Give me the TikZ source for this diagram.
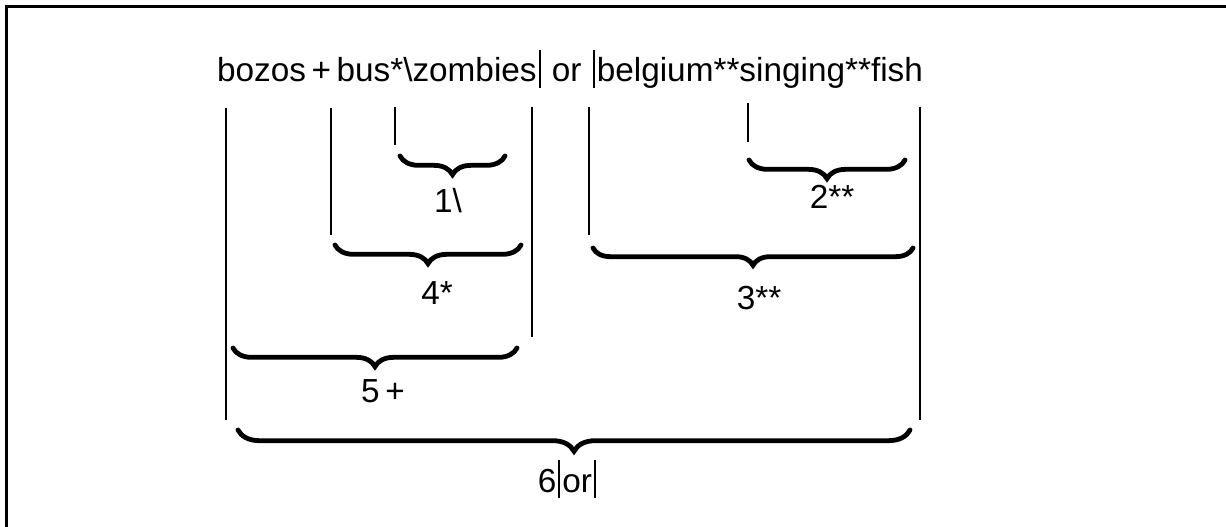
\documentclass[tikz,border=0pt]{standalone}
\usepackage{fontspec}
\setmainfont{Liberation Sans}
\usetikzlibrary{decorations.pathreplacing}
% tall thin bar used for the alternation sign
\newcommand{\altbar}{\kern0.06em\rule[-0.18em]{0.06em}{1.15em}\kern0.06em}
\begin{document}
\begin{tikzpicture}[x=0.75pt,y=-0.75pt,
  txt/.style={font=\fontsize{25}{30}\selectfont, inner sep=0pt},
  guide/.style={line width=1.5pt},
  ubrace/.style={decorate, decoration={brace,mirror,amplitude=#1}, line width=3.6pt, line cap=round},
  ubrace/.default=14pt,
  frame/.style={line width=2pt}]
\useasboundingbox (0,0) rectangle (1226,527);

% outer frame (only left and top edges fall inside the page)
\coordinate (fbl) at (6.5,527);
\coordinate (ftl) at (6.5,6.5);
\coordinate (ftr) at (1226,6.5);
\draw[frame] (fbl) -- (ftl) -- (ftr);

% the expression
\node[txt, anchor=base] (expr) at (570,82)
  {bozos\,+\,bus*\textbackslash zombies\altbar{} or \altbar belgium**singing**fish};

% position guides
\foreach \n/\x/\ya/\yb in {g1/395/107/145, g4/331/108/235, g5/532/107/337,
                          g6/226/108/420, g3/589/107/235, g2/748/103/142,
                          g7/920/107/420}{
  \coordinate (\n t) at (\x,\ya);
  \coordinate (\n b) at (\x,\yb);
  \draw[guide] (\n t) -- (\n b);
}

% braces
\coordinate (b1l) at (400,156); \coordinate (b1r) at (505,156);
\coordinate (b4l) at (335,245); \coordinate (b4r) at (521,245);
\coordinate (b5l) at (233,348); \coordinate (b5r) at (517,348);
\coordinate (b6l) at (238,430); \coordinate (b6r) at (910,430);
\coordinate (b3l) at (593,248); \coordinate (b3r) at (913,248);
\coordinate (b2l) at (749,160); \coordinate (b2r) at (905,160);
\draw[ubrace] (b1l) -- (b1r);
\draw[ubrace] (b4l) -- (b4r);
\draw[ubrace] (b5l) -- (b5r);
\draw[ubrace=16pt] (b6l) -- (b6r);
\draw[ubrace=13pt] (b3l) -- (b3r);
\draw[ubrace] (b2l) -- (b2r);

% brace labels
\node[txt] (l1) at (448,201) {1\textbackslash};
\node[txt] (l4) at (437,293) {4*};
\node[txt] (l5) at (383,391) {5\,+};
\node[txt, anchor=base] (l6) at (568,492) {6\altbar or\altbar};
\node[txt] (l3) at (759,298) {3**};
\node[txt] (l2) at (832,197) {2**};
\end{tikzpicture}
\end{document}
